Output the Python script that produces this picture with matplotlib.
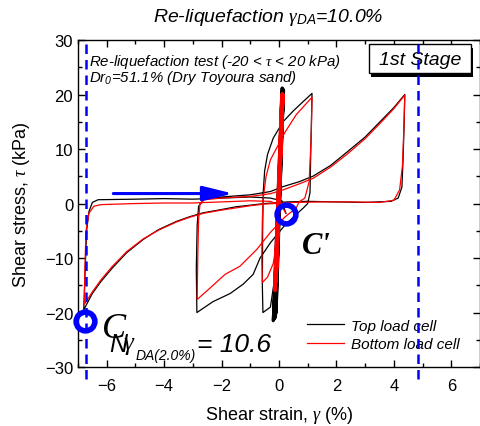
import numpy as np
import matplotlib
matplotlib.use("Agg")
import matplotlib.pyplot as plt
from matplotlib.ticker import MultipleLocator

plt.rcParams['font.family'] = ['Liberation Sans', 'DejaVu Sans']
plt.rcParams['mathtext.fontset'] = 'custom'
plt.rcParams['mathtext.it'] = 'Liberation Serif:italic'
plt.rcParams['mathtext.rm'] = 'Liberation Sans:italic'

# Dense cycles near zero strain (top load cell / bottom load cell)
band_top_x = [0.0, 0.12, -0.16, 0.14, -0.12, 0.10, -0.20, 0.16, -0.14, 0.13, -0.18, 0.11, -0.10, 0.15, -0.16, 0.15]
band_top_y = [0, 20.5, -21, 21, -20.5, 20, -21.5, 20.8, -21, 20.2, -21.3, 21.2, -20, 20.6, -21, 20.6]
band_bot_x = [0.0, 0.10, -0.12, 0.13, -0.10, 0.09, -0.15, 0.14, -0.11, 0.12, -0.14, 0.11, -0.09, 0.14, -0.12, 0.12]
band_bot_y = [0, 19.8, -14, 20, -14.5, 19.5, -15, 20, -14, 19.8, -16, 20.2, -13.5, 19.9, -14.5, 19.8]

# Growing loops after the dense cycles
top_x = [0.12, 0.05, -0.05, -0.10, -0.30, -0.56,
         -0.58, -0.57, -0.55, -0.50, -0.40, -0.20, 0.14, 0.50, 0.80, 1.15,
         1.13, 1.10, 1.08, 1.00, 0.85, 0.60, 0.20, -0.30, -0.66, -0.90, -1.25, -1.70, -2.30, -2.86,
         -2.88, -2.85, -2.80, -2.60, -2.00, -1.00, -0.30, 0.14, 0.70, 1.18, 1.80, 2.36, 3.00, 3.50, 4.00, 4.38,
         4.36, 4.32, 4.28, 4.15, 3.90, 3.00, 2.00, 1.00, 0.30, -0.50, -1.00, -1.50, -2.00, -2.64, -3.10,
         -3.58, -4.20, -4.73, -5.30, -5.80, -6.20, -6.50, -6.80,
         -6.75, -6.70, -6.62, -6.50, -6.30, -5.00, -4.00, -3.00, -2.00, -1.00, -0.30, 0.10, 0.24]
top_y = [10, 0, -6, -12, -19, -20,
         -15, -5, 2, 6, 9, 12, 15, 17, 18.5, 20.2,
         15, 8, 2, 0, -0.8, -2, -4, -7.2, -10, -13, -14.8, -16.5, -18, -20,
         -12, -4, -0.5, 0.8, 1.2, 1.6, 2.2, 3.1, 4.0, 5.0, 7.0, 9.4, 12.2, 14.9, 17.6, 20,
         15, 8, 3, 1, 0.4, 0.2, 0.3, 0.4, 0.3, 0, -0.3, -0.6, -1.1, -1.7, -2.4,
         -3.3, -4.8, -6.6, -9, -11.8, -14.3, -16.5, -19.5,
         -12, -5, -1.5, 0.2, 0.7, 0.8, 0.9, 0.8, 1.0, 1.2, 1.0, 0.5, -1.8]

bot_x = [0.10, 0.04, -0.05, -0.20, -0.40, -0.58,
         -0.60, -0.58, -0.55, -0.45, -0.30, 0.00, 0.20, 0.60, 1.15,
         1.12, 1.05, 0.90, 0.70, 0.60, 0.20, -0.30, -0.77, -1.36, -1.88, -2.40, -2.85,
         -2.83, -2.80, -2.75, -2.60, -2.00, -1.00, -0.30, 0.14, 0.70, 1.18, 1.80, 2.36, 3.00, 3.50, 4.00, 4.38,
         4.35, 4.30, 4.20, 4.00, 3.50, 2.50, 1.50, 0.50, -0.50, -1.00, -1.50, -2.00, -2.64, -3.10,
         -3.58, -4.20, -4.73, -5.30, -5.80, -6.20, -6.50, -6.78,
         -6.76, -6.72, -6.62, -6.45, -6.20, -5.00, -4.00, -3.00, -2.00, -1.00, -0.30, 0.10, 0.24]
bot_y = [10, 0, -6, -11, -13.5, -14.5,
         -10, -3, 1, 5, 8, 11, 13, 16.3, 19.5,
         12, 4, 1, 0.3, -0.8, -2.5, -5.3, -8.4, -11.5, -13, -15.5, -17.6,
         -10, -3, 0, 0.7, 1.0, 1.3, 1.8, 2.5, 3.6, 4.6, 6.7, 9.0, 11.9, 14.6, 17.4, 19.9,
         14, 7, 2.5, 0.6, 0.2, 0.3, 0.3, 0.2, -0.1, -0.4, -0.8, -1.2, -1.8, -2.5,
         -3.4, -4.9, -6.5, -8.8, -11.5, -14, -16.2, -18.5,
         -12, -5, -1.8, -0.5, -0.2, 0, 0.1, 0.1, 0.3, 0.5, 0.4, -0.5, -1.8]

fig = plt.figure(figsize=(4.8, 4.27), dpi=100)
ax = fig.add_axes([0.1625, 0.138, 0.8375, 0.766])

ax.plot(band_top_x, band_top_y, color='black', lw=2.2, zorder=2)
ax.plot(top_x, top_y, color='black', lw=0.9, zorder=2, label='Top load cell')
ax.plot(band_bot_x, band_bot_y, color='red', lw=2.2, zorder=3)
ax.plot(bot_x, bot_y, color='red', lw=0.9, zorder=3, label='Bottom load cell')

# gamma_DA = 10 % markers
for xv in [-6.72, 4.83]:
    ax.plot([xv, xv], [29.3, -33.3], color='blue', lw=1.8, ls=(0, (3.8, 2.4)),
            clip_on=False, zorder=6)

# arrow
ax.annotate('', xy=(-1.6, 1.83), xytext=(-5.77, 1.83),
            arrowprops=dict(arrowstyle='-|>,head_length=1.3,head_width=0.32',
                            mutation_scale=14, color='blue', lw=2.2,
                            shrinkA=0, shrinkB=0), zorder=5)

# points C and C'
ax.plot([-6.75, 0.24], [-21.5, -2.0], 'o', mfc='none', mec='blue', ms=13.5, mew=4.0,
        clip_on=False, zorder=7)
ax.text(-6.16, -24.4, 'C', fontsize=26, family='Liberation Serif', style='italic', zorder=8)
ax.text(0.8, -9.0, "C'", fontsize=22, family='Liberation Serif', style='italic',
        weight='bold', zorder=8)

# N_gamma_DA(2.0%) = 10.6
ax.text(-5.92, -27.0, 'N', fontsize=18, style='italic', zorder=8)
ax.text(-5.43, -26.6, 'γ', fontsize=18, family='Liberation Serif', style='italic', zorder=8)
ax.text(-5.0, -28.6, 'DA(2.0%)', fontsize=10, style='italic', zorder=8)
ax.text(-2.85, -27.0, '= 10.6', fontsize=19, style='italic', zorder=8)

ax.text(-6.6, 26.1, r'Re-liquefaction test (-20 < $\tau$ < 20 kPa)', fontsize=10.8,
        style='italic', va='center')
ax.text(-6.6, 23.2, r'Dr$_{\mathrm{0}}$=51.1% (Dry Toyoura sand)', fontsize=10.8,
        style='italic', va='center')

# "1st Stage" box with shadow
ax.add_patch(plt.Rectangle((3.22, 23.3), 3.55, 5.3, facecolor='black', edgecolor='none',
                           zorder=4, clip_on=False))
ax.add_patch(plt.Rectangle((3.12, 23.9), 3.55, 5.3, facecolor='white', edgecolor='black',
                           lw=1.0, zorder=4.5, clip_on=False))
ax.text(4.9, 26.5, '1st Stage', fontsize=14, style='italic', ha='center', va='center',
        zorder=5)

ax.set_xlim(-7, 7)
ax.set_ylim(-30, 30)
ax.xaxis.set_major_locator(MultipleLocator(2))
ax.xaxis.set_minor_locator(MultipleLocator(1))
ax.yaxis.set_major_locator(MultipleLocator(10))
ax.yaxis.set_minor_locator(MultipleLocator(5))
ax.tick_params(which='both', direction='in', top=True, right=True, labelsize=12, width=1)
ax.tick_params(which='major', length=5)
ax.tick_params(which='minor', length=3)
ax.tick_params(axis='x', which='major', pad=8)
for s in ax.spines.values():
    s.set_linewidth(1.0)

ax.set_xlabel(r'Shear strain, $\gamma$ (%)', fontsize=13, labelpad=8)
ax.set_ylabel(r'Shear stress, $\tau$ (kPa)', fontsize=13, labelpad=9)
fig.text(268 / 480, 1 - 18 / 427, r'Re-liquefaction $\gamma_{\mathrm{DA}}$=10.0%',
         fontsize=14, style='italic', ha='center', va='center')

leg = ax.legend(loc='lower right', bbox_to_anchor=(0.965, 0.03), frameon=False,
                prop=dict(style='italic', size=11), handlelength=2.4,
                handletextpad=0.5, labelspacing=0.3, borderaxespad=0)

fig.savefig('out.png', dpi=100)
